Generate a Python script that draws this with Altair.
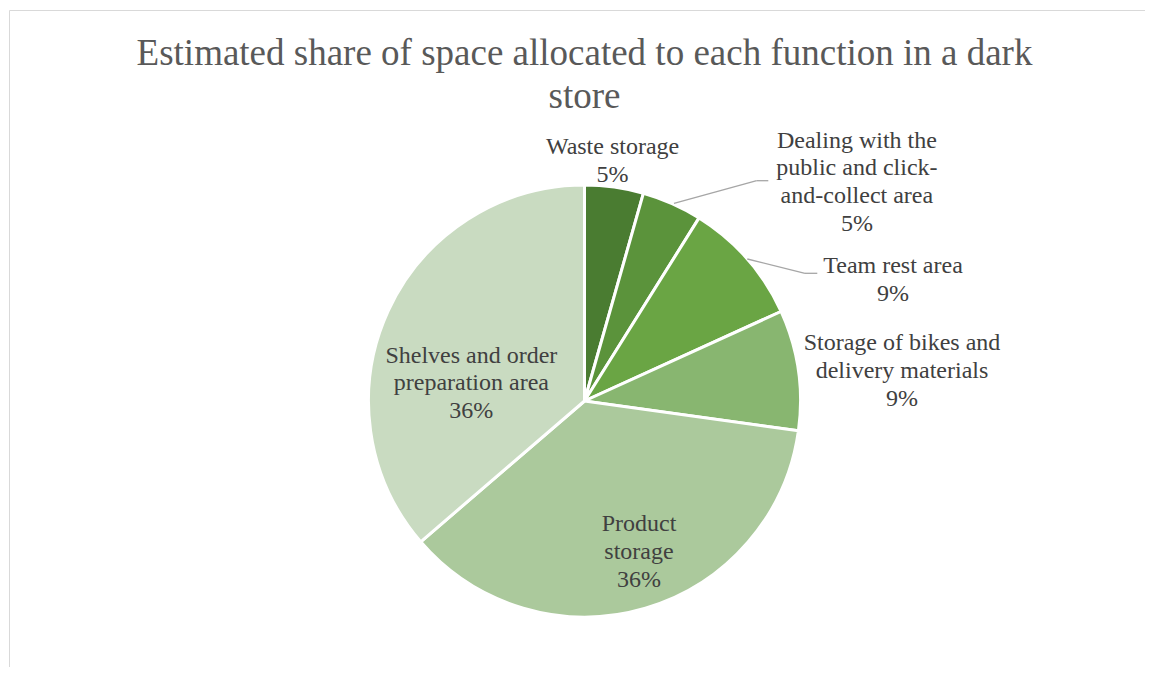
import altair as alt
import pandas as pd

categories = [
    "Waste storage",
    "Dealing with the public and click-and-collect area",
    "Team rest area",
    "Storage of bikes and delivery materials",
    "Product storage",
    "Shelves and order preparation area",
]
values = [4.4, 4.5, 9.3, 9.0, 36.5, 36.3]
pct_labels = ["5%", "5%", "9%", "9%", "36%", "36%"]
display_names = [
    "Waste storage",
    "Dealing with the\npublic and click-\nand-collect area",
    "Team rest area",
    "Storage of bikes and\ndelivery materials",
    "Product\nstorage",
    "Shelves and order\npreparation area",
]
colors = ["#4a7c31", "#5b933b", "#6aa544", "#88b670", "#abc99c", "#c9dbc1"]
title_lines = ["Estimated share of space allocated to each function in a dark", "store"]

df = pd.DataFrame({
    "idx": list(range(len(categories))),
    "category": categories,
    "value": values,
    "label": [n + "\n" + p for n, p in zip(display_names, pct_labels)],
})
total = sum(values)
one = pd.DataFrame({"k": [0]})

W, H = 1137, 659
CX, CY, R = 576.5, 393, 216
FONT = "'Liberation Serif', 'Times New Roman', Times, serif"

theta_scale = alt.Scale(domain=[0, total], range=[0, 6.283185307179586])

pie = alt.Chart(df).mark_arc(radius=R, stroke="white", strokeWidth=3).encode(
    theta=alt.Theta("value:Q", stack=True, scale=theta_scale),
    color=alt.Color("category:N", scale=alt.Scale(domain=categories, range=colors), legend=None),
    order=alt.Order("idx:Q"),
    x=alt.value(CX),
    y=alt.value(CY),
)

# label placement (style): radius from centre and pixel nudges per slice
label_style = [
    (240, -5, -9),
    (240, 175, -34),
    (240, 128, 30),
    (240, 80, -16),
    (140, 15, -4),
    (130, 5, 16),
]

base = alt.Chart(df).transform_window(
    cum="sum(value)", sort=[alt.SortField("idx")], frame=[None, 0]
).transform_calculate(mid="datum.cum - datum.value / 2")

label_layers = []
for i, (r, dx, dy) in enumerate(label_style):
    label_layers.append(
        base.transform_filter(alt.datum.idx == i).mark_text(
            font=FONT, fontSize=24, color="#404040", lineBreak="\n", lineHeight=27.7,
            align="center", baseline="alphabetic", dx=dx, dy=dy,
        ).encode(
            theta=alt.Theta("mid:Q", stack=False, scale=theta_scale),
            radius=alt.value(r),
            text="label:N",
            x=alt.value(CX),
            y=alt.value(CY),
        )
    )

title = alt.Chart(one).mark_text(
    text=title_lines, font=FONT, fontSize=37, color="#595959", lineHeight=43,
    align="center", baseline="alphabetic",
).encode(x=alt.value(CX), y=alt.value(56.5))

def frame_line(x1, y1, x2, y2):
    return alt.Chart(one).mark_rule(color="#d9d9d9", strokeWidth=1).encode(
        x=alt.value(x1), y=alt.value(y1), x2=alt.value(x2), y2=alt.value(y2)
    )

frame = [frame_line(1.5, 2.5, 1400, 2.5), frame_line(1.5, 2.5, 1.5, 900)]

leader_color = "#a6a6a6"
def seg(x1, y1, x2, y2):
    return alt.Chart(one).mark_rule(color=leader_color, strokeWidth=1.3).encode(
        x=alt.value(x1), y=alt.value(y1), x2=alt.value(x2), y2=alt.value(y2)
    )

leaders = [
    seg(666, 195.3, 748.7, 172.7),
    seg(748.7, 172.7, 760.3, 172.7),
    seg(739.3, 251, 797, 265.3),
    seg(797, 265.3, 809.3, 265.3),
]

chart = alt.layer(*frame, pie, *leaders, *label_layers, title).properties(
    width=W, height=H, autosize=alt.AutoSizeParams(type="none"), padding=0,
    background="white",
).configure_view(stroke=None)

chart.save("out.html", embed_options={"renderer": "svg", "actions": False})
